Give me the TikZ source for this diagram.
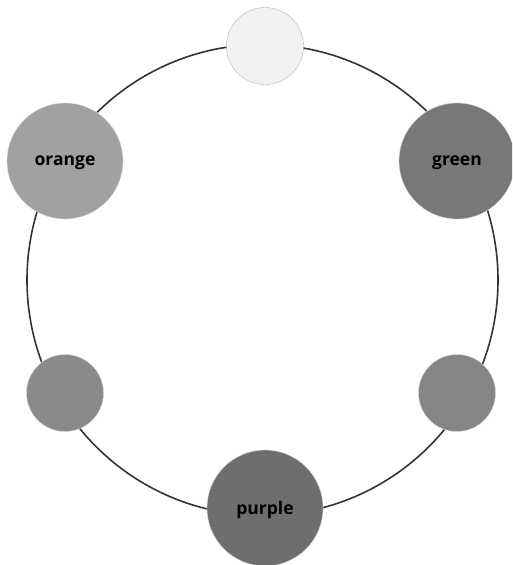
\documentclass[tikz,border=0pt]{standalone}
\usepackage{fontspec}
\setmainfont{Open Sans}

\begin{document}
\begin{tikzpicture}[x=1pt, y=-1pt,
    % Define the styles for the colour nodes
    bignode/.style={circle, minimum size=116pt, inner sep=0pt, text depth=0pt, draw=white!85!black, line width=0.4pt, font=\bfseries\fontsize{17.5}{19}\selectfont},
    smallnode/.style={circle, minimum size=77pt, inner sep=0pt, draw=white!85!black, line width=0.4pt}
]

% Fix the page size
\useasboundingbox (0,0) rectangle (512,565);
\clip (0,0) rectangle (512,565);

% Define the centre of the ring
\coordinate (C) at (262.5,280);

% Draw the ring
\draw[line width=1.6pt, black!80] (C) circle[radius=235.5];

% Draw the colour nodes
\node[smallnode, fill=black!5, draw=black!30] (white) at (265,46) {};
\node[bignode, fill=black!37] (orange) at (65,161) {orange};
\node[bignode, fill=black!53] (green) at (457,161) {green};
\node[smallnode, fill=black!46] (red) at (65,393) {};
\node[smallnode, fill=black!48] (blue) at (457,393) {};
\node[bignode, fill=black!57] (purple) at (265,508) {purple};

\end{tikzpicture}
\end{document}
